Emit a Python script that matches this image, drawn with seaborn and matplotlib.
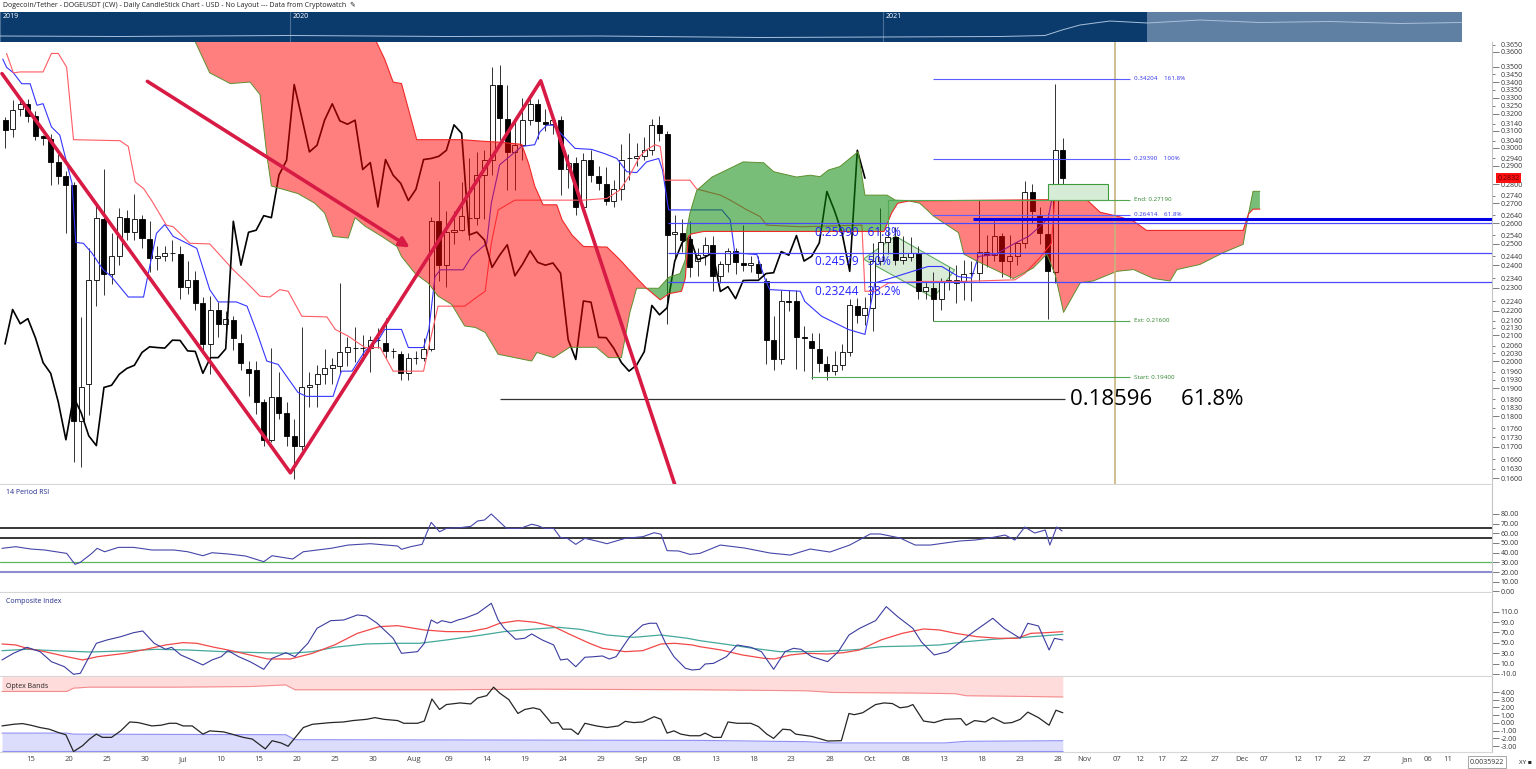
import numpy as np
import matplotlib
matplotlib.use("Agg")
import matplotlib.pyplot as plt
import matplotlib.ticker as mticker
import matplotlib.transforms as mtrans
from matplotlib.patches import Polygon, Rectangle, FancyArrowPatch
import seaborn as sns

sns.set_style("white")
plt.rcParams["font.family"] = ["Open Sans", "DejaVu Sans"]

# ---------------- daily candles, 12 Jun 2021 .. 29 Oct 2021 ----------------
opens = [0.3163, 0.3110, 0.3227, 0.3259, 0.3186, 0.3067, 0.3050, 0.2921, 0.2843, 0.2795,
         0.1786, 0.1915, 0.2335, 0.2618, 0.2361, 0.2443, 0.2627, 0.2556, 0.2618, 0.2522,
         0.2433, 0.2442, 0.2458, 0.2451, 0.2304, 0.2334, 0.2232, 0.2066, 0.2203, 0.2147,
         0.2164, 0.2070, 0.1970, 0.1968, 0.1850, 0.1722, 0.1868, 0.1811, 0.1733, 0.1703,
         0.1902, 0.1915, 0.1950, 0.1972, 0.1980, 0.2033, 0.2052, 0.2052, 0.2052, 0.2081,
         0.2070, 0.2039, 0.2027, 0.1954, 0.2013, 0.2013, 0.2047, 0.2609, 0.2400, 0.2555,
         0.2565, 0.2627, 0.2627, 0.2849, 0.2930, 0.3380, 0.3172, 0.2977, 0.3015, 0.3163,
         0.3259, 0.3152, 0.3142, 0.3162, 0.2879, 0.2914, 0.2681, 0.2930, 0.2846, 0.2800,
         0.2714, 0.2773, 0.2940, 0.2942, 0.2952, 0.2986, 0.3134, 0.3079, 0.2548, 0.2553,
         0.2522, 0.2418, 0.2446, 0.2495, 0.2352, 0.2404, 0.2467, 0.2410, 0.2400, 0.2407,
         0.2330, 0.2081, 0.2006, 0.2242, 0.2242, 0.2092, 0.2078, 0.2046, 0.1990, 0.1962,
         0.1985, 0.2036, 0.2220, 0.2184, 0.2213, 0.2418, 0.2507, 0.2532, 0.2425, 0.2437,
         0.2455, 0.2283, 0.2300, 0.2252, 0.2330, 0.2320, 0.2331, 0.2366, 0.2366, 0.2463,
         0.2446, 0.2539, 0.2419, 0.2441, 0.2504, 0.2761, 0.2642, 0.2547, 0.2371, 0.2986]
highs = [0.3180, 0.3284, 0.3300, 0.3290, 0.3220, 0.3073, 0.3080, 0.2966, 0.2870, 0.2810,
         0.2175, 0.2478, 0.2690, 0.2884, 0.2550, 0.2675, 0.2666, 0.2750, 0.2640, 0.2609,
         0.2488, 0.2488, 0.2520, 0.2488, 0.2419, 0.2372, 0.2260, 0.2264, 0.2237, 0.2200,
         0.2178, 0.2104, 0.2000, 0.2000, 0.1860, 0.2052, 0.1960, 0.1850, 0.1790, 0.2134,
         0.1960, 0.1985, 0.2045, 0.2013, 0.2322, 0.2092, 0.2132, 0.2100, 0.2097, 0.2130,
         0.2170, 0.2052, 0.2039, 0.2030, 0.2040, 0.2090, 0.2630, 0.2817, 0.2660, 0.2660,
         0.2813, 0.2940, 0.2978, 0.2990, 0.3497, 0.3510, 0.3380, 0.3180, 0.3298, 0.3317,
         0.3290, 0.3230, 0.3190, 0.3190, 0.2966, 0.2947, 0.2970, 0.2987, 0.2900, 0.2894,
         0.2820, 0.3020, 0.3088, 0.3030, 0.3060, 0.3170, 0.3186, 0.3100, 0.2640, 0.2620,
         0.2609, 0.2480, 0.2530, 0.2535, 0.2420, 0.2480, 0.2480, 0.2590, 0.2440, 0.2440,
         0.2340, 0.2178, 0.2290, 0.2290, 0.2290, 0.2138, 0.2110, 0.2110, 0.2020, 0.2039,
         0.2065, 0.2250, 0.2253, 0.2260, 0.2502, 0.2675, 0.2590, 0.2580, 0.2535, 0.2530,
         0.2487, 0.2330, 0.2370, 0.2340, 0.2390, 0.2402, 0.2425, 0.2420, 0.2716, 0.2542,
         0.2609, 0.2552, 0.2540, 0.2510, 0.2819, 0.2800, 0.2680, 0.2650, 0.3386, 0.3057]
lows = [0.3002, 0.3064, 0.3186, 0.3150, 0.3044, 0.3015, 0.2795, 0.2800, 0.2550, 0.1650,
        0.1634, 0.1804, 0.2220, 0.2268, 0.2315, 0.2400, 0.2518, 0.2518, 0.2478, 0.2371,
        0.2378, 0.2420, 0.2420, 0.2251, 0.2270, 0.2205, 0.2027, 0.1951, 0.2092, 0.2100,
        0.2041, 0.1968, 0.1873, 0.1809, 0.1703, 0.1715, 0.1790, 0.1703, 0.1599, 0.1690,
        0.1834, 0.1833, 0.1915, 0.1915, 0.1955, 0.1982, 0.1995, 0.2000, 0.1960, 0.2050,
        0.2013, 0.2013, 0.1930, 0.1930, 0.1990, 0.2000, 0.2040, 0.2330, 0.2304, 0.2500,
        0.2559, 0.2520, 0.2590, 0.2620, 0.2849, 0.3044, 0.2770, 0.2770, 0.2930, 0.3132,
        0.3050, 0.3100, 0.3080, 0.2744, 0.2777, 0.2642, 0.2660, 0.2812, 0.2770, 0.2692,
        0.2680, 0.2716, 0.2820, 0.2900, 0.2930, 0.2960, 0.3040, 0.2144, 0.2430, 0.2460,
        0.2348, 0.2350, 0.2400, 0.2284, 0.2320, 0.2370, 0.2360, 0.2373, 0.2370, 0.2340,
        0.1987, 0.1968, 0.1990, 0.2200, 0.1970, 0.1963, 0.1934, 0.1960, 0.1930, 0.1946,
        0.1968, 0.2020, 0.2150, 0.2140, 0.2118, 0.2400, 0.2450, 0.2400, 0.2404, 0.2420,
        0.2251, 0.2250, 0.2158, 0.2206, 0.2290, 0.2234, 0.2245, 0.2240, 0.2330, 0.2393,
        0.2420, 0.2348, 0.2340, 0.2400, 0.2480, 0.2600, 0.2500, 0.2166, 0.2322, 0.2800]
closes = [0.3104, 0.3223, 0.3259, 0.3186, 0.3067, 0.3057, 0.2921, 0.2843, 0.2795, 0.1786,
          0.1902, 0.2335, 0.2627, 0.2361, 0.2443, 0.2630, 0.2556, 0.2622, 0.2527, 0.2433,
          0.2442, 0.2457, 0.2456, 0.2304, 0.2334, 0.2234, 0.2066, 0.2206, 0.2147, 0.2168,
          0.2090, 0.1994, 0.1954, 0.1850, 0.1722, 0.1868, 0.1813, 0.1735, 0.1703, 0.1902,
          0.1910, 0.1950, 0.1972, 0.1984, 0.2033, 0.2055, 0.2052, 0.2050, 0.2081, 0.2080,
          0.2039, 0.2037, 0.1954, 0.2013, 0.2013, 0.2047, 0.2609, 0.2400, 0.2555, 0.2565,
          0.2637, 0.2627, 0.2849, 0.2930, 0.3384, 0.3177, 0.2977, 0.3015, 0.3163, 0.3262,
          0.3158, 0.3138, 0.3162, 0.2879, 0.2917, 0.2681, 0.2934, 0.2848, 0.2804, 0.2714,
          0.2773, 0.2934, 0.2940, 0.2952, 0.2986, 0.3134, 0.3084, 0.2542, 0.2556, 0.2518,
          0.2390, 0.2446, 0.2495, 0.2352, 0.2404, 0.2467, 0.2413, 0.2400, 0.2410, 0.2364,
          0.2083, 0.2006, 0.2242, 0.2237, 0.2092, 0.2091, 0.2049, 0.1994, 0.1962, 0.1985,
          0.2036, 0.2223, 0.2184, 0.2213, 0.2418, 0.2507, 0.2532, 0.2425, 0.2437, 0.2458,
          0.2283, 0.2304, 0.2252, 0.2331, 0.2332, 0.2332, 0.2362, 0.2366, 0.2463, 0.2446,
          0.2539, 0.2419, 0.2441, 0.2504, 0.2761, 0.2662, 0.2550, 0.2372, 0.2986, 0.2832]

# ---------------- ichimoku lines (day index, price) ----------------
tenkan_d = [-0.3, 0.2, 1.1, 2.2, 3.3, 4.2, 5.0, 6.1, 7.2, 8.3, 8.8, 9.3, 10.3, 11.4, 12.9, 14.0,
            16.2, 18.2, 19.9, 21.0, 22.1, 23.9, 25.2, 26.9, 28.0, 30.4, 31.8, 33.1, 34.4, 35.9,
            38.5, 39.6, 43.1, 44.2, 45.6, 47.3, 49.1, 49.9, 52.1, 53.0, 55.0, 55.7, 56.5, 57.2,
            60.2, 61.3, 63.3, 63.9, 65.0, 67.9, 69.6, 70.3, 71.2, 72.0, 74.9, 77.1, 78.8, 80.4,
            81.7, 83.0, 84.3, 85.9, 86.4, 87.2, 94.2, 95.3, 95.9, 98.8, 99.9, 100.5, 104.5,
            105.1, 107.3, 109.1, 110.8, 113.0, 114.3, 117.0, 121.3, 123.1, 125.3, 127.0, 127.9,
            130.1, 132.7, 134.5, 136.2, 137.1, 137.8, 138.9]
tenkan_v = [0.3552, 0.3497, 0.3460, 0.3389, 0.3389, 0.3253, 0.3263, 0.3122, 0.3073, 0.2884,
            0.2805, 0.2506, 0.2502, 0.2457, 0.2379, 0.2348, 0.2259, 0.2259, 0.2550, 0.2593,
            0.2535, 0.2502, 0.2478, 0.2291, 0.2238, 0.2238, 0.2220, 0.2112, 0.2000, 0.1987,
            0.1884, 0.1870, 0.1870, 0.1962, 0.1962, 0.2039, 0.2083, 0.2124, 0.2124, 0.2052,
            0.2052, 0.2124, 0.2348, 0.2379, 0.2379, 0.2440, 0.2502, 0.2700, 0.2905, 0.3008,
            0.3018, 0.3093, 0.3132, 0.3132, 0.2997, 0.2991, 0.2967, 0.2940, 0.2867, 0.2862,
            0.2921, 0.2940, 0.2876, 0.2666, 0.2666, 0.2616, 0.2457, 0.2449, 0.2334, 0.2291,
            0.2284, 0.2240, 0.2178, 0.2150, 0.2124, 0.2104, 0.2320, 0.2348, 0.2394, 0.2394,
            0.2348, 0.2342, 0.2440, 0.2449, 0.2502, 0.2535, 0.2590, 0.2627, 0.2774, 0.2779]
kijun_d = [0.2, 1.1, 2.0, 5.0, 6.1, 7.0, 8.1, 9.0, 15.1, 16.2, 17.1, 18.2, 19.3, 21.2, 22.1,
           24.3, 26.9, 30.0, 31.8, 33.5, 34.8, 36.1, 37.2, 39.0, 42.3, 43.4, 45.1, 47.3, 49.3,
           51.0, 55.0, 55.8, 56.9, 60.4, 62.2, 63.1, 63.9, 64.8, 67.0, 76.0, 79.1, 80.8, 82.1,
           83.4, 84.3, 85.4, 86.1, 86.7, 90.0, 90.9, 94.0, 95.3, 97.5, 99.2, 100.1, 104.5,
           112.6, 113.0, 114.3, 116.1, 120.5, 125.7, 132.7, 134.0, 136.0, 137.5, 138.0, 139.0]
kijun_v = [0.3590, 0.3460, 0.3466, 0.3466, 0.3590, 0.3590, 0.3497, 0.3047, 0.3041, 0.3008,
           0.2812, 0.2777, 0.2712, 0.2590, 0.2582, 0.2502, 0.2499, 0.2379, 0.2320, 0.2263,
           0.2259, 0.2291, 0.2284, 0.2178, 0.2175, 0.2124, 0.2097, 0.2052, 0.2052, 0.1962,
           0.1962, 0.2070, 0.2220, 0.2220, 0.2263, 0.2284, 0.2502, 0.2666, 0.2716, 0.2716,
           0.2725, 0.2769, 0.2848, 0.2951, 0.2989, 0.3018, 0.3008, 0.2821, 0.2821, 0.2774,
           0.2742, 0.2716, 0.2666, 0.2633, 0.2590, 0.2582, 0.2590, 0.2284, 0.2284, 0.2320,
           0.2327, 0.2327, 0.2334, 0.2362, 0.2435, 0.2502, 0.2750, 0.2748]
spanA_d = [-1, 20, 25.0, 26.9, 29.6, 32.2, 33.5, 34.4, 35.0, 38.5, 40.7, 42.0, 43.1, 45.1, 46.0,
           47.3, 49.5, 51.5, 52.1, 53.9, 55.6, 56.9, 58.7, 60.4, 61.8, 63.1, 64.8, 69.2, 69.9,
           72.1, 74.2, 77.7, 79.3, 81.0, 82.1, 83.0, 84.3, 85.9, 87.2, 88.7, 89.4, 89.6, 90.0,
           90.9, 92.9, 94.8, 97.0, 99.7, 101.0, 104.0, 105.8, 107.1, 108.2, 109.7, 112.1, 113.0,
           115.9, 117.0, 118.3, 118.8, 120.2, 121.5, 122.0, 125.3, 126.0, 127.7, 132.5, 135.1,
           136.9, 138.0, 139.1, 141.3, 143.0, 146.1, 148.3, 150.9, 153.1, 154.0, 157.0, 160.1,
           162.7, 163.4, 164.0, 164.9]
spanA_v = [0.45, 0.40, 0.367, 0.346, 0.339, 0.340, 0.332, 0.296, 0.279, 0.275, 0.270, 0.265,
           0.2535, 0.2527, 0.2627, 0.2585, 0.2535, 0.2487, 0.2440, 0.2362, 0.2320, 0.2263,
           0.2227, 0.2138, 0.2132, 0.2112, 0.2026, 0.2000, 0.2033, 0.2013, 0.2053, 0.2053,
           0.2013, 0.2013, 0.2192, 0.2297, 0.2297, 0.2297, 0.2345, 0.2362, 0.2425, 0.2569,
           0.2650, 0.2767, 0.2838, 0.2876, 0.2921, 0.2916, 0.2867, 0.2838, 0.2848, 0.2840,
           0.2876, 0.2895, 0.2978, 0.2742, 0.2742, 0.2716, 0.2714, 0.2712, 0.2700, 0.2654,
           0.2635, 0.2553, 0.2451, 0.2419, 0.2340, 0.2387, 0.2451, 0.2357, 0.2194, 0.2321,
           0.2329, 0.2372, 0.2380, 0.2340, 0.2329, 0.2380, 0.2403, 0.2458, 0.2497, 0.2645,
           0.2762, 0.2762]
spanB_d = [-1, 48.0, 48.8, 49.9, 51.0, 52.1, 54.1, 60.0, 63.1, 64.8, 67.9, 68.8, 69.6, 70.7,
           72.5, 73.2, 74.5, 76.0, 79.1, 80.8, 83.0, 84.3, 86.1, 87.2, 88.9, 89.4, 89.8, 90.2,
           91.8, 115.5, 116.5, 117.3, 118.8, 142.1, 143.9, 146.1, 148.3, 150.0, 162.7, 163.4,
           164.0, 164.9]
spanB_v = [0.46, 0.40, 0.367, 0.355, 0.340, 0.339, 0.3047, 0.3047, 0.3037, 0.3033, 0.3020,
           0.2912, 0.2790, 0.2692, 0.2692, 0.2616, 0.2542, 0.2487, 0.2484, 0.2425, 0.2342,
           0.2297, 0.2247, 0.2273, 0.2284, 0.2342, 0.2535, 0.2547, 0.2559, 0.2559, 0.2650,
           0.2700, 0.2712, 0.2720, 0.2654, 0.2635, 0.2610, 0.2564, 0.2564, 0.2645, 0.2670,
           0.2670]

# ---------------- drawings ----------------
pattern_d = [-0.4, 37.5, 70.4, 90.0]
pattern_v = [0.3455, 0.1617, 0.3408, 0.1450]
arrow_d = [18.4, 53.5]
arrow_v = [0.3414, 0.2475]
retr_levels = [0.25990, 0.24579, 0.23244]
retr_pcts = ["61.8%", "50%", "38.2%"]
ext_levels = [0.34204, 0.29390, 0.26414]
ext_pcts = ["161.8%", "100%", "61.8%"]
green_levels = [0.27190, 0.21600, 0.19400]
green_names = ["End", "Ext", "Start"]
green_starts = [116.0, 121.9, 105.9]
key_level = 0.18596
thick_level = 0.2620
channel_d = [112.8, 117.0, 124.8, 122.0]
channel_v = [0.2428, 0.2536, 0.2378, 0.2256]
box_d = [137.1, 145.0]
box_v = [0.2716, 0.2802]
last_price = 0.2832

# navigator history line (position along the bar, height in the bar)
nav_pos = [0, 120, 290, 450, 600, 760, 883, 1000, 1045, 1062, 1080, 1110, 1147, 1200, 1260,
           1330, 1400, 1462]
nav_level = [6.0, 5.5, 6.5, 5.5, 6.0, 4.5, 5.0, 5.5, 6.5, 12.0, 17.0, 21.0, 19.0, 22.0, 19.5,
             20.5, 18.5, 19.5]

# ---------------- indicators ----------------
rsi_d = [-0.4, 1.4, 3.4, 5.2, 8.1, 9.2, 9.9, 11.4, 12.1, 13.1, 14.9, 16.9, 19.3, 22.2, 24.0,
         26.0, 27.2, 29.3, 31.6, 34.0, 35.1, 37.8, 39.2, 42.8, 45.1, 48.0, 51.6, 52.1, 53.3,
         54.8, 56.0, 57.1, 58.0, 59.8, 61.2, 62.1, 63.0, 63.9, 65.9, 67.7, 69.2, 70.0, 70.9,
         72.1, 73.0, 73.9, 75.0, 76.2, 77.7, 79.1, 80.3, 81.5, 83.8, 85.3, 86.2, 87.0, 88.5,
         90.0, 91.3, 94.0, 97.2, 100.5, 103.2, 105.8, 108.4, 111.0, 113.7, 115.0, 117.6,
         119.6, 121.6, 123.5, 125.5, 127.5, 129.4, 131.4, 132.7, 134.0, 135.3, 136.7, 137.3,
         138.2, 138.9]
rsi_v = [44.4, 46.1, 43.7, 42.7, 39.2, 27.9, 30.0, 39.2, 44.4, 40.9, 45.4, 45.4, 42.7, 42.7,
         40.9, 36.8, 39.9, 38.6, 36.5, 30.6, 36.8, 33.4, 40.9, 44.4, 47.8, 49.2, 46.8, 43.4,
         46.1, 48.5, 71.2, 61.5, 65.0, 65.7, 67.1, 72.6, 73.6, 79.8, 65.0, 65.0, 69.2, 67.8,
         65.0, 65.0, 55.4, 54.7, 48.5, 54.7, 52.0, 49.2, 52.0, 54.7, 56.4, 60.5, 58.9, 42.0,
         41.7, 38.2, 39.2, 47.8, 44.7, 39.6, 37.5, 43.7, 40.6, 47.8, 59.2, 59.2, 55.1, 47.8,
         47.8, 49.9, 52.0, 53.0, 55.1, 58.1, 53.0, 66.4, 60.2, 63.3, 47.8, 66.4, 62.3]
rsi_lines = [65, 55, 30, 20]

ci_d = [-0.4, 1.1, 2.9, 4.6, 6.1, 7.8, 9.0, 9.9, 12.0, 13.4, 15.2, 16.9, 18.1, 19.6, 21.1,
        21.9, 23.1, 24.6, 26.0, 27.2, 28.4, 29.3, 30.7, 32.2, 34.0, 35.1, 36.9, 38.1, 39.8,
        41.0, 42.8, 44.5, 46.3, 47.5, 48.9, 51.0, 52.1, 54.2, 55.1, 56.0, 56.8, 57.4, 58.6,
        59.5, 60.4, 62.1, 63.9, 64.8, 65.6, 67.1, 68.3, 69.2, 70.6, 72.1, 73.0, 73.9, 75.0,
        76.2, 77.4, 78.5, 79.4, 80.3, 82.1, 83.8, 84.7, 85.6, 86.8, 87.9, 89.4, 90.3, 91.3,
        92.0, 93.1, 94.8, 96.2, 98.0, 99.4, 101.0, 102.5, 103.6, 104.6, 106.0, 108.1, 109.5,
        110.9, 112.3, 114.4, 115.8, 117.3, 119.3, 120.4, 122.1, 123.9, 125.6, 127.0, 129.8,
        131.3, 132.7, 133.4, 134.4, 135.8, 137.2, 137.9, 139.0]
ci_v = [17.0, 29.8, 41.4, 33.0, 13.7, 4.0, -10.6, -8.7, 49.1, 55.5, 61.8, 69.6, 72.8, 49.1,
        37.6, 41.4, 26.6, 17.0, 7.3, 17.0, 23.3, 34.9, 23.3, 13.7, -1.0, 20.2, 31.0, 23.3,
        49.1, 78.0, 92.7, 94.0, 103.7, 101.7, 87.7, 58.8, 29.8, 33.0, 49.1, 94.0, 87.7, 92.7,
        88.8, 94.0, 97.3, 106.9, 126.2, 94.0, 78.0, 56.8, 58.8, 67.1, 55.5, 45.9, 17.0, 18.9,
        4.0, 22.2, 23.3, 24.7, 18.9, 23.3, 61.8, 84.4, 87.7, 87.7, 49.1, 23.3, 1.0, -2.3,
        -1.0, 9.2, 10.5, 23.4, 45.9, 41.4, 33.0, -1.0, 33.0, 39.4, 37.5, 23.4, 13.7, 33.0,
        65.1, 77.9, 92.8, 119.7, 100.4, 77.9, 52.2, 26.6, 33.0, 52.2, 68.3, 97.3, 77.9, 65.1,
        58.7, 87.6, 82.5, 36.2, 58.7, 55.5]
ci_fast_d = [-0.4, 1.4, 2.9, 5.2, 8.1, 10.2, 12.2, 15.8, 18.1, 21.1, 23.4, 25.2, 27.5, 29.3,
             32.2, 34.5, 37.5, 40.4, 43.3, 46.3, 49.2, 51.6, 55.1, 58.0, 61.0, 63.3, 65.0,
             67.4, 69.7, 72.1, 74.4, 76.8, 78.5, 81.5, 83.8, 86.2, 88.0, 90.3, 91.3, 94.1,
             96.9, 99.7, 101.1, 103.2, 105.3, 108.1, 110.2, 112.3, 115.1, 117.9, 120.7, 122.8,
             124.9, 127.7, 130.6, 133.0, 134.8, 136.9, 139.0]
ci_fast_v = [47.8, 45.9, 39.4, 33.0, 23.4, 17.0, 23.4, 29.8, 36.2, 45.9, 50.4, 49.1, 41.4,
             36.2, 26.6, 18.9, 18.9, 29.8, 45.9, 68.3, 81.2, 83.1, 74.8, 71.6, 71.6, 77.9,
             87.6, 92.8, 89.5, 81.2, 65.1, 49.1, 39.4, 33.0, 34.9, 47.8, 49.1, 45.9, 42.6,
             36.2, 26.6, 20.2, 18.9, 26.6, 29.8, 28.5, 31.1, 36.2, 55.5, 68.3, 76.7, 74.8,
             68.3, 61.9, 58.7, 58.7, 68.3, 69.6, 71.5]
ci_slow_d = [-0.4, 2.9, 6.4, 11.1, 15.8, 19.9, 24.0, 28.7, 33.4, 37.5, 40.4, 43.3, 47.4, 51.0,
             54.5, 58.0, 62.7, 65.6, 69.7, 72.7, 75.6, 79.1, 82.6, 86.2, 89.7, 91.3, 94.8,
             98.3, 101.8, 105.3, 108.8, 112.3, 115.1, 119.3, 122.8, 126.3, 129.8, 133.4,
             136.2, 139.0]
ci_slow_v = [34.9, 37.5, 34.9, 32.4, 34.3, 37.5, 36.2, 33.0, 31.1, 29.8, 33.0, 41.4, 47.8,
             49.1, 49.1, 55.5, 65.1, 71.6, 76.7, 79.9, 76.0, 65.1, 60.6, 65.1, 58.7, 54.2,
             47.1, 39.4, 33.0, 33.0, 34.3, 37.5, 42.6, 43.9, 45.9, 52.2, 56.8, 60.0, 63.2, 66.4]

opt_d = [-0.4, 1.1, 2.3, 3.4, 4.6, 5.8, 7.0, 8.0, 9.0, 10.2, 11.1, 12.0, 12.8, 14.0, 15.2,
         16.4, 17.5, 19.3, 20.5, 21.6, 22.5, 23.4, 24.6, 26.0, 26.9, 28.7, 29.8, 31.3, 32.5,
         34.2, 35.1, 36.3, 37.2, 39.2, 40.4, 42.8, 44.5, 45.7, 47.5, 48.6, 49.8, 51.6, 52.4,
         54.2, 55.1, 56.1, 57.1, 58.0, 59.8, 61.2, 62.1, 63.3, 64.2, 65.0, 66.2, 67.4, 68.3,
         69.4, 70.3, 71.2, 71.8, 72.7, 73.3, 74.4, 75.3, 76.2, 77.7, 79.1, 80.6, 81.5, 82.6,
         83.8, 85.3, 86.2, 87.0, 87.9, 88.8, 90.0, 91.3, 92.0, 93.1, 94.1, 95.0, 96.2, 98.0,
         99.0, 100.1, 101.0, 102.2, 103.2, 103.9, 106.0, 108.1, 109.9, 110.9, 111.6, 112.7,
         114.4, 115.5, 116.6, 117.6, 118.6, 119.3, 120.7, 122.1, 123.5, 125.6, 126.3, 127.4,
         128.8, 129.8, 131.3, 132.3, 133.4, 134.4, 135.8, 137.2, 138.1, 139.0]
opt_v = [-0.38, -0.17, -0.08, -0.29, -0.59, -0.80, -1.23, -1.53, -3.69, -2.93, -2.08, -1.44,
         -1.86, -1.86, -1.02, 0.13, 0.05, -0.38, -0.29, -0.04, -0.04, -0.38, -0.38, -1.44,
         -1.02, -1.15, -1.44, -1.86, -2.08, -3.35, -2.29, -2.59, -3.01, -0.59, -0.17, 0.05,
         0.13, 0.31, 0.47, 0.69, 0.47, 0.31, -0.04, -0.04, 0.25, 3.10, 1.74, 2.38, 2.59, 2.46,
         3.23, 3.53, 4.63, 3.86, 3.02, 1.23, 1.74, 1.96, 1.74, 0.69, -0.04, 0.05, -0.80, -0.80,
         -1.48, -0.04, -0.38, -0.59, -0.38, 0.21, 0.05, 0.13, 0.81, 0.47, -1.31, -1.02, -1.44,
         -1.65, -1.65, -1.31, -1.86, -1.86, 0.13, -0.04, -0.04, -0.46, -1.44, -1.99, -0.80,
         -0.89, -1.44, -1.73, -2.33, -2.29, 1.23, 1.07, 1.32, 2.38, 2.59, 2.51, 1.96, 2.09,
         2.38, 0.25, 0.05, 0.47, 0.56, -0.29, 0.31, 0.13, 0.69, -0.04, 0.05, 0.47, 1.40, 0.69,
         -0.29, 1.65, 1.32]
band_up_d = [-0.4, 8.1, 9.0, 11.1, 22.8, 32.2, 36.9, 38.1, 58.0, 69.7, 91.3, 105.3, 108.8,
             119.3, 124.9, 126.3, 133.4, 139.0]
band_up_v = [4.07, 4.07, 4.50, 4.63, 4.63, 4.71, 4.92, 4.29, 4.29, 4.37, 4.29, 4.16, 3.94,
             3.87, 3.78, 3.52, 3.44, 3.36]
band_lo_d = [-0.4, 8.1, 9.0, 36.9, 38.1, 91.3, 105.3, 108.8, 123.5, 126.3, 139.0]
band_lo_v = [-1.31, -1.31, -1.44, -1.52, -2.16, -2.25, -2.42, -2.58, -2.58, -2.37, -2.29]
band_floor = -3.68

# ---------------- axis labels ----------------
price_major = [0.16, 0.17, 0.18, 0.19, 0.20, 0.21, 0.22, 0.23, 0.24, 0.25, 0.26, 0.27, 0.28,
               0.29, 0.30, 0.31, 0.32, 0.33, 0.34, 0.35, 0.36]
price_minor = [0.1630, 0.1660, 0.1730, 0.1760, 0.1830, 0.1860, 0.1930, 0.1960, 0.2030, 0.2060,
               0.2130, 0.2160, 0.2240, 0.2340, 0.2440, 0.2540, 0.2640, 0.2740, 0.2940, 0.3040,
               0.3140, 0.3250, 0.3350, 0.3450, 0.3650]
date_labels = ["15", "20", "25", "30", "Jul", "10", "15", "20", "25", "30", "Aug", "09", "14",
               "19", "24", "29", "Sep", "08", "13", "18", "23", "28", "Oct", "08", "13", "18",
               "23", "28", "Nov", "07", "12", "17", "22", "27", "Dec", "07", "12", "17", "22",
               "27", "Jan", "06", "11"]
date_ticks = [2.5, 7.5, 12.5, 17.5, 22.5, 27.5, 32.5, 37.5, 42.5, 47.5, 52.5, 57.5, 62.5, 67.5,
              72.5, 77.5, 82.5, 87.5, 92.5, 97.5, 102.5, 107.5, 112.5, 117.5, 122.5, 127.5,
              132.5, 137.5, 140.7, 145.3, 148.2, 151.2, 154.1, 158.2, 161.4, 164.6, 169.0,
              171.7, 174.9, 178.1, 183.2, 186.1, 188.7]

W, H = 1536, 769
XMIN, XMAX = -0.66, 195.4
fig = plt.figure(figsize=(W / 100, H / 100), dpi=100)
fig.patch.set_facecolor("white")


def px_axes(x0, y0, x1, y1):
    return fig.add_axes([x0 / W, 1 - y1 / H, (x1 - x0) / W, (y1 - y0) / H])


def style_panel(a):
    for s in ["top", "left"]:
        a.spines[s].set_visible(False)
    a.spines["bottom"].set_color("#d6d6d6")
    a.spines["right"].set_color("#c4c4c4")
    a.spines["bottom"].set_linewidth(0.8)
    a.spines["right"].set_linewidth(0.8)
    a.set_xlim(XMIN, XMAX)
    a.set_xticks([])
    a.yaxis.tick_right()
    a.set_xlabel("")
    a.set_ylabel("")


def right_ticks(a, major, minor, fmt):
    a.yaxis.set_major_locator(mticker.FixedLocator(major))
    a.yaxis.set_major_formatter(mticker.FixedFormatter([fmt.format(v) for v in major]))
    a.yaxis.set_minor_locator(mticker.FixedLocator(minor))
    a.yaxis.set_minor_formatter(mticker.FixedFormatter([fmt.format(v) for v in minor]))
    a.tick_params(axis="y", which="major", length=5, width=0.6, color="#666666",
                  labelsize=5, labelcolor="#333333", pad=1)
    a.tick_params(axis="y", which="minor", length=2.5, width=0.6, color="#666666",
                  labelsize=5, labelcolor="#333333", pad=3.5)


ax_nav = px_axes(0, 12, 1462, 42)
ax = px_axes(0, 42, 1492, 484)
ax_rsi = px_axes(0, 485, 1492, 592)
ax_ci = px_axes(0, 593, 1492, 676)
ax_opt = px_axes(0, 677, 1492, 752)

# ---------------- navigator ----------------
ax_nav.set_facecolor("#0b3b6c")
ax_nav.set_xlim(0, 1462)
ax_nav.set_ylim(0, 30)
ax_nav.add_patch(Rectangle((1147, 0), 315, 30, facecolor="#5f7fa3", edgecolor="none"))
for xpos, lab in zip([0, 290, 883], ["2019", "2020", "2021"]):
    ax_nav.axvline(xpos, color="#4a6f96", lw=0.8)
    ax_nav.text(xpos + 3, 26, lab, color="white", fontsize=5, va="center")
sns.lineplot(x=nav_pos, y=nav_level, ax=ax_nav, color="#a9c0dc", lw=0.7, sort=False,
             estimator=None)
ax_nav.set_xlim(0, 1462)
ax_nav.set_ylim(0, 30)
ax_nav.set_xticks([])
ax_nav.set_yticks([])
ax_nav.set_xlabel("")
ax_nav.set_ylabel("")
for s in ax_nav.spines.values():
    s.set_visible(False)

fig.text(3 / W, 1 - 5 / H,
         "Dogecoin/Tether - DOGEUSDT (CW) - Daily CandleStick Chart - USD - No Layout --- Data from Cryptowatch  \u270e",
         fontsize=5, color="#222222", va="center")

# ---------------- main price panel ----------------
ax.set_yscale("log")
days = np.arange(len(closes))
o = np.array(opens)
c = np.array(closes)
up = c >= o
ax.vlines(days, lows, highs, color="#333333", lw=0.7, zorder=2)
ax.bar(days[up], (c - o)[up], bottom=o[up], width=0.66, color="white",
       edgecolor="black", lw=0.6, zorder=2.1)
ax.bar(days[~up], (o - c)[~up], bottom=c[~up], width=0.66, color="black",
       edgecolor="black", lw=0.6, zorder=2.1)

sns.lineplot(x=tenkan_d, y=tenkan_v, ax=ax, color="#3535ff", lw=0.8, sort=False,
             estimator=None, zorder=2.5)
sns.lineplot(x=kijun_d, y=kijun_v, ax=ax, color="#ff5a64", lw=0.8, sort=False,
             estimator=None, zorder=2.5)
# lagging span: closes drawn 26 sessions back
sns.lineplot(x=days[:-26], y=closes[26:], ax=ax, color="black", lw=1.2, sort=False,
             estimator=None, zorder=2.6)

# kumo
red_fill, green_fill = "#ff0000", "#0a8a0a"
for lo_d, hi_d, col, al in [(-1, 84.3, red_fill, 0.5), (84.3, 118.8, green_fill, 0.55),
                            (118.8, 163.4, red_fill, 0.5), (163.4, 164.9, green_fill, 0.55)]:
    pa = [(x, y) for x, y in zip(spanA_d, spanA_v) if lo_d <= x <= hi_d]
    pb = [(x, y) for x, y in zip(spanB_d, spanB_v) if lo_d <= x <= hi_d]
    ax.add_patch(Polygon(pa + pb[::-1], closed=True, facecolor=col, alpha=al,
                         edgecolor="none", zorder=3))
sns.lineplot(x=spanA_d, y=spanA_v, ax=ax, color="#5f8f2f", lw=0.7, sort=False,
             estimator=None, zorder=3.1)
sns.lineplot(x=spanB_d, y=spanB_v, ax=ax, color="#f02828", lw=0.8, sort=False,
             estimator=None, zorder=3.1)

# green channel and target box
ax.add_patch(Polygon(list(zip(channel_d, channel_v)), closed=True, facecolor="#cfe8cf",
                     alpha=0.8, edgecolor="#3d9a3d", lw=0.8, zorder=1.5))
ax.add_patch(Rectangle((box_d[0], box_v[0]), box_d[1] - box_d[0], box_v[1] - box_v[0],
                       facecolor="#d6ecd6", edgecolor="#3d9a3d", lw=0.8, zorder=4))

# fib retracement (big labels)
for lev, pct in zip(retr_levels, retr_pcts):
    ax.hlines(lev, 87.1, XMAX, color="#4848ff", lw=0.9, zorder=5)
    ax.annotate(f"{lev:.5f}   {pct}", (106.4, lev), xytext=(0, -2),
                textcoords="offset points", va="top", ha="left", fontsize=8.5,
                color="#2323ff", zorder=6)

# fib extension tool
for lev, pct in zip(ext_levels, ext_pcts):
    ax.hlines(lev, 121.9, 147.8, color="#5b5bff", lw=0.8, zorder=5)
    ax.text(148.4, lev, f"{lev:.5f}    {pct}", fontsize=4.5, color="#3434e6",
            va="center", zorder=6)
for lev, name, x0 in zip(green_levels, green_names, green_starts):
    ax.hlines(lev, x0, 147.8, color="#52a852", lw=0.8, zorder=5)
    ax.text(148.4, lev, f"{name}: {lev:.5f}", fontsize=4.5, color="#2f862f",
            va="center", zorder=6)
ax.vlines(green_starts[0], 0.2555, green_levels[0], color="#52a852", lw=0.8, zorder=5)

ax.hlines(thick_level, 127.2, XMAX, color="#0000e6", lw=2.2, zorder=5)
ax.hlines(key_level, 65.0, 139.3, color="#333333", lw=0.9, zorder=5)
ax.text(140.0, key_level, f"{key_level:.5f}     61.8%", fontsize=16, color="black",
        va="center", zorder=6)
ax.axvline(145.9, color="#c9b37c", lw=1.2, zorder=4.5)

# ABCD pattern + arrow
ax.plot(pattern_d, pattern_v, color="#d81b45", lw=2.6, solid_capstyle="round", zorder=7)
ax.add_patch(FancyArrowPatch((arrow_d[0], arrow_v[0]), (arrow_d[1], arrow_v[1]),
                             arrowstyle="-|>", mutation_scale=14, color="#d81b45",
                             lw=2.6, zorder=7))

ax.set_ylim(0.1583, 0.3669)
style_panel(ax)
right_ticks(ax, price_major, price_minor, "{:.4f}")
ax.annotate(f"{last_price:.4f}", xy=(1.0, last_price),
            xycoords=("axes fraction", "data"), xytext=(4, 0), textcoords="offset points",
            va="center", ha="left", fontsize=5, color="#5a0000",
            bbox=dict(boxstyle="square,pad=0.25", fc="#ff1010", ec="none"), zorder=10,
            annotation_clip=False)

# ---------------- RSI ----------------
for lev, col, lw in zip(rsi_lines, ["black", "black", "#5cb85c", "#8d8dd0"],
                        [1.1, 1.1, 0.9, 1.5]):
    ax_rsi.axhline(lev, color=col, lw=lw)
sns.lineplot(x=rsi_d, y=rsi_v, ax=ax_rsi, color="#4646aa", lw=0.8, sort=False,
             estimator=None)
ax_rsi.set_ylim(-0.6, 109.7)
style_panel(ax_rsi)
right_ticks(ax_rsi, [0, 10, 20, 30, 40, 50, 60, 70, 80], [], "{:.2f}")
ax_rsi.text(0.004, 0.93, "14 Period RSI", transform=ax_rsi.transAxes, fontsize=5,
            color="#1f2a8a", va="center")

# ---------------- Composite index ----------------
sns.lineplot(x=ci_slow_d, y=ci_slow_v, ax=ax_ci, color="#44a89c", lw=0.9, sort=False,
             estimator=None)
sns.lineplot(x=ci_fast_d, y=ci_fast_v, ax=ax_ci, color="#f24848", lw=0.9, sort=False,
             estimator=None)
sns.lineplot(x=ci_d, y=ci_v, ax=ax_ci, color="#3c3ca0", lw=0.8, sort=False,
             estimator=None)
ax_ci.set_ylim(-13.9, 146)
style_panel(ax_ci)
right_ticks(ax_ci, [-10, 10, 30, 50, 70, 90, 110], [], "{:.1f}")
ax_ci.text(0.004, 0.9, "Composite Index", transform=ax_ci.transAxes, fontsize=5,
           color="#1f2a8a", va="center")

# ---------------- Optex bands ----------------
ax_opt.fill_between(band_up_d, band_up_v, 6.5, color="#ffdcdc", lw=0)
sns.lineplot(x=band_up_d, y=band_up_v, ax=ax_opt, color="#f58c8c", lw=0.8, sort=False,
             estimator=None)
ax_opt.fill_between(band_lo_d, band_floor, band_lo_v, color="#dcdcfd", lw=0)
sns.lineplot(x=band_lo_d, y=band_lo_v, ax=ax_opt, color="#8e8ef5", lw=0.8, sort=False,
             estimator=None)
ax_opt.hlines(band_floor, band_lo_d[0], band_lo_d[-1], color="#8e8ef5", lw=0.8)
sns.lineplot(x=opt_d, y=opt_v, ax=ax_opt, color="#262626", lw=0.9, sort=False,
             estimator=None)
ax_opt.set_ylim(-3.75, 5.94)
style_panel(ax_opt)
right_ticks(ax_opt, [-3, -2, -1, 0, 1, 2, 3, 4], [], "{:.2f}")
ax_opt.text(0.004, 0.87, "Optex Bands", transform=ax_opt.transAxes, fontsize=5,
            color="#222222", va="center")

ax_opt.set_xticks(date_ticks)
ax_opt.set_xticklabels(date_labels, ha="left")
ax_opt.tick_params(axis="x", length=11, width=0.6, color="#d0d0d0", labelsize=5.5,
                   labelcolor="#444444", pad=-8)
off = mtrans.ScaledTranslation(2 / 100, 0, fig.dpi_scale_trans)
for lab in ax_opt.get_xticklabels():
    lab.set_transform(lab.get_transform() + off)

fig.text(1470 / W, 1 - 762 / H, "0.0035922", fontsize=5, color="#333333", va="center",
         bbox=dict(boxstyle="square,pad=0.3", fc="white", ec="#999999", lw=0.6))
fig.text(1519 / W, 1 - 762 / H, "XY \u25aa", fontsize=4.5, color="#222222", va="center")

fig.savefig("out.png", dpi=100, facecolor="white")
